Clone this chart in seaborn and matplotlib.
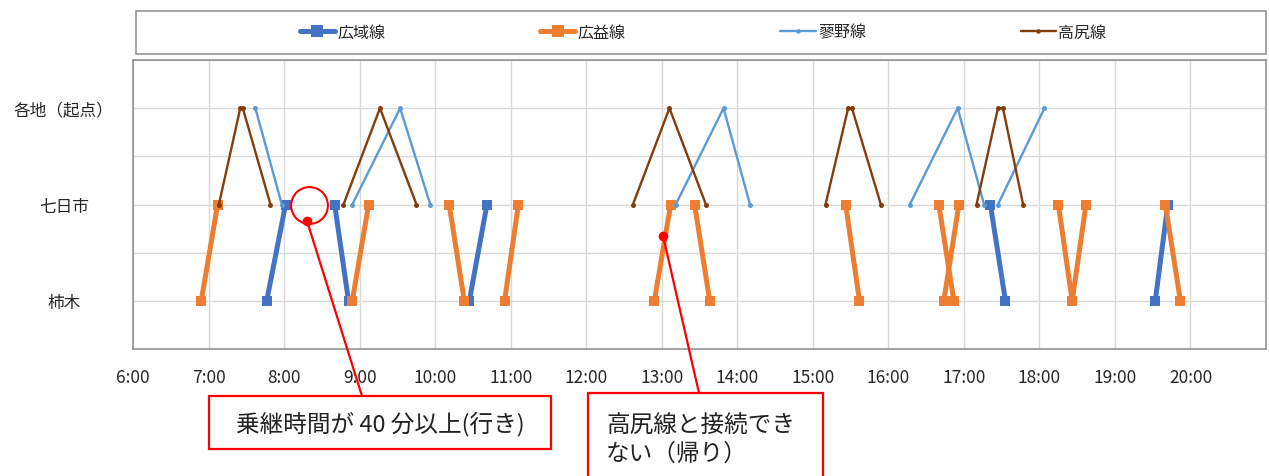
import pandas as pd
import seaborn as sns
import matplotlib.pyplot as plt
from matplotlib.lines import Line2D
from matplotlib.patches import Rectangle

# stations on the y axis and their row positions
stations = ["柿木", "七日市", "各地（起点）"]
station_rows = [1, 3, 5]
hours = list(range(6, 21))

# trips per line: (time, station)
kouiki = [
    [("7:46", "柿木"), ("8:01", "七日市")],
    [("8:40", "七日市"), ("8:51", "柿木")],
    [("10:27", "柿木"), ("10:41", "七日市")],
    [("17:21", "七日市"), ("17:33", "柿木")],
    [("19:32", "柿木"), ("19:42", "七日市")],
]
koueki = [
    [("6:54", "柿木"), ("7:07", "七日市")],
    [("8:54", "柿木"), ("9:07", "七日市")],
    [("10:11", "七日市"), ("10:23", "柿木")],
    [("10:55", "柿木"), ("11:06", "七日市")],
    [("12:54", "柿木"), ("13:07", "七日市")],
    [("13:26", "七日市"), ("13:38", "柿木")],
    [("15:26", "七日市"), ("15:37", "柿木")],
    [("16:40", "七日市"), ("16:52", "柿木")],
    [("16:44", "柿木"), ("16:56", "七日市")],
    [("18:15", "七日市"), ("18:26", "柿木")],
    [("18:26", "柿木"), ("18:37", "七日市")],
    [("19:40", "七日市"), ("19:52", "柿木")],
]
tadeno = [
    [("7:37", "各地（起点）"), ("7:58", "七日市")],
    [("8:54", "七日市"), ("9:32", "各地（起点）"), ("9:56", "七日市")],
    [("13:11", "七日市"), ("13:49", "各地（起点）"), ("14:10", "七日市")],
    [("16:17", "七日市"), ("16:55", "各地（起点）"), ("17:16", "七日市")],
    [("17:27", "七日市"), ("18:04", "各地（起点）")],
]
takashiri = [
    [("7:08", "七日市"), ("7:25", "各地（起点）"), ("7:27", "各地（起点）"), ("7:49", "七日市")],
    [("8:47", "七日市"), ("9:16", "各地（起点）"), ("9:45", "七日市")],
    [("12:37", "七日市"), ("13:06", "各地（起点）"), ("13:35", "七日市")],
    [("15:10", "七日市"), ("15:28", "各地（起点）"), ("15:31", "各地（起点）"), ("15:54", "七日市")],
    [("17:10", "七日市"), ("17:27", "各地（起点）"), ("17:31", "各地（起点）"), ("17:47", "七日市")],
]

line_names = ["広域線", "広益線", "蓼野線", "高尻線"]
line_trips = [kouiki, koueki, tadeno, takashiri]
colors = ["#4472C4", "#ED7D31", "#5B9BD5", "#843C0C"]

# annotation points
note1_text = "乗継時間が 40 分以上(行き)"
note2_text = "高尻線と接続でき\nない（帰り）"
circle_at = ("8:20", "七日市")
dot1 = ("8:18", 2.66)
dot2 = ("13:01", 2.34)


def to_hours(t):
    h, m = t.split(":")
    return int(h) + int(m) / 60


row_of = dict(zip(stations, station_rows))
rows = []
for name, trips in zip(line_names, line_trips):
    for i, trip in enumerate(trips):
        for t, st in trip:
            rows.append({"line": name, "trip": i, "time": to_hours(t), "pos": row_of[st]})
df = pd.DataFrame(rows)

sns.set_style("white")
plt.rcParams['font.family'] = ['Noto Sans CJK JP', 'DejaVu Sans']

W, H = 1269, 477
fig = plt.figure(figsize=(W / 100, H / 100), dpi=100)
ax = fig.add_axes([133.3 / W, 1 - 350 / H, (1266 - 133.3) / W, (350 - 61) / H])

styles = {
    "広域線": dict(lw=3.6, marker="s", ms=7.7),
    "広益線": dict(lw=3.6, marker="s", ms=7.7),
    "蓼野線": dict(lw=1.7, marker="o", ms=3.6),
    "高尻線": dict(lw=1.7, marker="o", ms=3.6),
}
for name, c in zip(line_names, colors):
    sub = df[df["line"] == name]
    st = styles[name]
    sns.lineplot(data=sub, x="time", y="pos", units="trip", estimator=None, sort=False,
                 color=c, linewidth=st["lw"], marker=st["marker"], markersize=st["ms"],
                 markeredgewidth=0, legend=False, ax=ax)

ax.set_xlim(6, 21)
ax.set_ylim(0, 6)
ax.set_xticks(hours)
ax.set_xticklabels([f"{h}:00" for h in hours], fontsize=12.5)
ax.set_yticks(range(7))
ylabels = ["" for _ in range(7)]
for s, r in zip(stations, station_rows):
    ylabels[r] = s
ax.set_yticklabels(ylabels, fontsize=12)
for lab in ax.get_yticklabels():
    lab.set_horizontalalignment("center")
ax.tick_params(axis="y", length=0, pad=50)
ax.tick_params(axis="x", length=0, pad=14)
ax.set_xlabel("")
ax.set_ylabel("")
ax.grid(True, color="#D9D9D9", lw=1.0)
ax.set_axisbelow(True)
for sp in ax.spines.values():
    sp.set_color("#8C8C8C")
    sp.set_linewidth(1.1)

# legend with its own frame
handles = []
for name, c in zip(line_names, colors):
    st = styles[name]
    handles.append(Line2D([], [], color=c, lw=st["lw"], marker=st["marker"],
                          ms=st["ms"] * (1.1 if st["marker"] == "s" else 0.9), mew=0))
fig.add_artist(Rectangle((136 / W, 1 - 55 / H), 1130 / W, 43 / H, transform=fig.transFigure,
                         fill=False, ec="#8C8C8C", lw=1.1))
fig.legend(handles, line_names, loc="center", bbox_to_anchor=(703 / W, 1 - 33 / H), ncol=4,
           frameon=False, fontsize=11.5, handlelength=2.2, handletextpad=0.15, columnspacing=9.7)

# annotations
ax.plot(to_hours(circle_at[0]), row_of[circle_at[1]], marker="o", ms=26.5, mfc="none",
        mec="#FF0000", mew=1.5, clip_on=False)
for (t, y), end in [(dot1, (362, 397)), (dot2, (699, 394))]:
    ax.plot(to_hours(t), y, marker="o", ms=7, color="#FF0000", mew=0, clip_on=False)
    ax.annotate("", xy=(end[0] / W, 1 - end[1] / H), xycoords="figure fraction",
                xytext=(to_hours(t), y), textcoords="data", annotation_clip=False,
                arrowprops=dict(arrowstyle="-", color="#FF0000", lw=1.6, shrinkA=0, shrinkB=0))

fig.add_artist(Rectangle((209 / W, 1 - 450 / H), 342 / W, 53 / H, transform=fig.transFigure,
                         fill=False, ec="#FF0000", lw=1.6))
fig.text(380 / W, 1 - 424 / H, note1_text, ha="center", va="center", fontsize=17, color="#222222")
fig.add_artist(Rectangle((588 / W, 1 - 485 / H), 235 / W, 91 / H, transform=fig.transFigure,
                         fill=False, ec="#FF0000", lw=1.6))
fig.text(606 / W, 1 - 440 / H, note2_text, ha="left", va="center", fontsize=17,
         color="#222222", linespacing=1.25)

fig.savefig("out.png", dpi=100)
